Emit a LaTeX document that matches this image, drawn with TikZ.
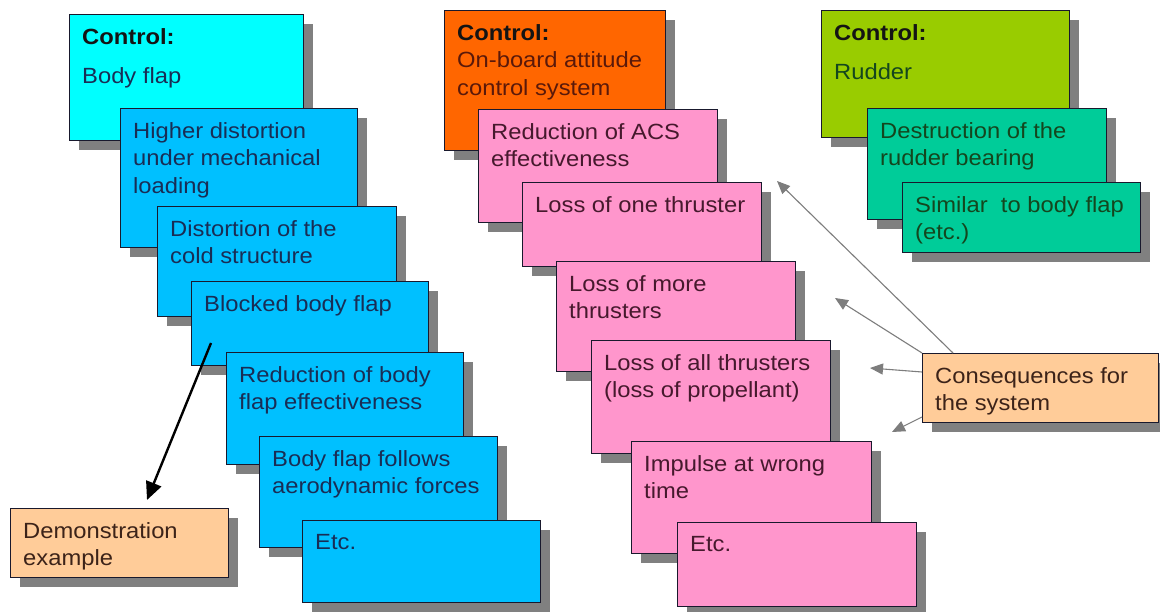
\documentclass[tikz,border=0pt]{standalone}
\usepackage{fontspec}
\setmainfont{Liberation Sans}[FakeStretch=1.08]
\usetikzlibrary{arrows.meta,calc}
\definecolor{shadowc}{RGB}{128,128,128}
\definecolor{edgec}{RGB}{25,25,45}
\definecolor{cyanc}{RGB}{0,255,255}
\definecolor{skyc}{RGB}{0,192,255}
\definecolor{orangec}{RGB}{255,102,0}
\definecolor{pinkc}{RGB}{255,150,204}
\definecolor{limec}{RGB}{153,204,0}
\definecolor{tealc}{RGB}{0,204,153}
\definecolor{peachc}{RGB}{255,204,153}
\definecolor{tblue}{RGB}{25,45,85}
\definecolor{tbrown}{RGB}{90,25,10}
\definecolor{tpink}{RGB}{70,25,45}
\definecolor{tgreen}{RGB}{20,70,30}
\definecolor{tpeach}{RGB}{60,35,25}
\definecolor{tblack}{RGB}{20,20,20}
\definecolor{arrgray}{RGB}{125,125,125}
\tikzset{
  boxst/.style={draw=edgec,line width=1.3pt,inner sep=0pt,rectangle},
  txtst/.style={inner sep=0pt,align=left,font=\fontsize{22}{27.5}\selectfont},
  grayarrow/.style={draw=arrgray,line width=1.1pt,-{Triangle[length=13pt,width=11pt]}},
  blackarrow/.style={draw=black,line width=2.4pt,-{Triangle[length=18pt,width=16pt]}}
}
% #1 name, #2 x1, #3 y1, #4 x2, #5 y2, #6 fill, #7 text colour, #8 text
\newcommand\cbox[8]{%
  \fill[shadowc] (#2+10,#3+10) rectangle (#4+10,#5+10);
  \node[boxst,fill=#6,anchor=north west,minimum width={(#4-#2)*1pt},minimum height={(#5-#3)*1pt}] (#1) at (#2,#3) {};
  \node[txtst,text=#7,anchor=north west] (#1t) at ([shift={(13,14)}]#1.north west) {#8};
}
\newcommand\ctl{\textcolor{tblack}{\textbf{Control:}}}
\begin{document}
\begin{tikzpicture}[x=1pt,y=-1pt]
\useasboundingbox[fill=white] (0,0) rectangle (1160,612);
% left column
\cbox{L0}{69}{14}{303}{140}{cyanc}{tblue}{\ctl\\[12pt]Body flap}
\cbox{L1}{120}{108}{357}{247}{skyc}{tblue}{Higher distortion\\under mechanical\\loading}
\cbox{L2}{157}{206}{396}{316}{skyc}{tblue}{Distortion of the\\cold structure}
\cbox{L3}{191}{281}{428}{365}{skyc}{tblue}{Blocked body flap}
\cbox{L4}{226}{352}{463}{464}{skyc}{tblue}{Reduction of body\\flap effectiveness}
\cbox{L5}{259}{436}{497}{547}{skyc}{tblue}{Body flap follows\\aerodynamic forces}
\cbox{L6}{302}{520}{540}{602}{skyc}{tblue}{Etc.}
\cbox{demo}{10}{508}{228}{577}{peachc}{tpeach}{Demonstration\\example}
% middle column
\cbox{M0}{444}{10}{665}{150}{orangec}{tbrown}{\ctl\\On-board attitude\\control system}
\cbox{M1}{478}{109}{717}{222}{pinkc}{tpink}{Reduction of ACS\\effectiveness}
\cbox{M2}{522}{182}{761}{266}{pinkc}{tpink}{Loss of one thruster}
\cbox{M3}{556}{261}{795}{371}{pinkc}{tpink}{Loss of more\\thrusters}
\cbox{M4}{591}{340}{830}{453}{pinkc}{tpink}{Loss of all thrusters\\(loss of propellant)}
\cbox{M5}{631}{441}{871}{553}{pinkc}{tpink}{Impulse at wrong\\time}
\cbox{M6}{677}{522}{916}{606}{pinkc}{tpink}{Etc.}
% right column
\cbox{R0}{821}{10}{1069}{137}{limec}{tgreen}{\ctl\\[12pt]Rudder}
\cbox{R1}{867}{108}{1106}{219}{tealc}{tgreen}{Destruction of the\\rudder bearing}
\cbox{R2}{902}{182}{1140}{252}{tealc}{tgreen}{Similar\ \ to body flap\\(etc.)}
% consequences
\cbox{cons}{922}{353}{1158}{422}{peachc}{tpeach}{Consequences for\\the system}
% arrows
\coordinate (bstart) at (211,343);
\coordinate (bend) at (147,500);
\draw[blackarrow] (bstart) -- (bend);
\coordinate (c1s) at (953,353);
\coordinate (c1e) at (777,181);
\coordinate (c2s) at (922,353);
\coordinate (c2e) at (835,298);
\coordinate (c3s) at (922,372);
\coordinate (c3e) at (870,368);
\coordinate (c4s) at (922,417);
\coordinate (c4e) at (892,432);
\draw[grayarrow] (c1s) -- (c1e);
\draw[grayarrow] (c2s) -- (c2e);
\draw[grayarrow] (c3s) -- (c3e);
\draw[grayarrow] (c4s) -- (c4e);
\end{tikzpicture}
\end{document}
